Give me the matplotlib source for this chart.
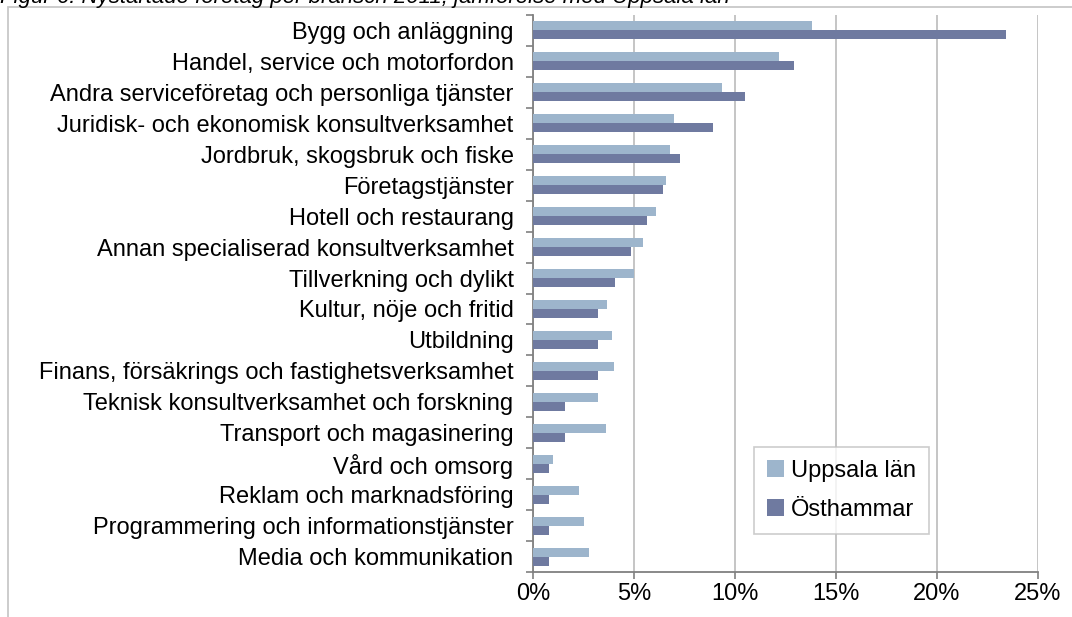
import matplotlib.pyplot as plt
import numpy as np
from matplotlib.patches import Rectangle

plt.rcParams['font.family'] = ['Liberation Sans', 'DejaVu Sans']

# branscher, uppifrån och ned
branscher = [
    'Bygg och anläggning',
    'Handel, service och motorfordon',
    'Andra serviceföretag och personliga tjänster',
    'Juridisk- och ekonomisk konsultverksamhet',
    'Jordbruk, skogsbruk och fiske',
    'Företagstjänster',
    'Hotell och restaurang',
    'Annan specialiserad konsultverksamhet',
    'Tillverkning och dylikt',
    'Kultur, nöje och fritid',
    'Utbildning',
    'Finans, försäkrings och fastighetsverksamhet',
    'Teknisk konsultverksamhet och forskning',
    'Transport och magasinering',
    'Vård och omsorg',
    'Reklam och marknadsföring',
    'Programmering och informationstjänster',
    'Media och kommunikation',
]
uppsala = [13.8, 12.2, 9.35, 7.0, 6.8, 6.6, 6.1, 5.45, 5.0, 3.65, 3.9, 4.0,
           3.2, 3.6, 1.0, 2.3, 2.5, 2.75]
osthammar = [23.4, 12.9, 10.5, 8.9, 7.3, 6.45, 5.65, 4.85, 4.05, 3.2, 3.2, 3.2,
             1.6, 1.6, 0.8, 0.8, 0.8, 0.8]

fig = plt.figure(figsize=(10.72, 6.17), dpi=100)
ax = fig.add_axes([533 / 1072, 1 - 572 / 617, 505 / 1072, 557 / 617])

y = np.arange(len(branscher))
h = 0.29
ax.barh(y - h / 2, uppsala, height=h, color='#9db5cc', label='Uppsala län', zorder=3)
ax.barh(y + h / 2, osthammar, height=h, color='#6f7aa0', label='Östhammar', zorder=3)

ax.set_ylim(len(branscher) - 0.5, -0.5)
ax.set_xlim(0, 25)
ax.set_xticks(np.arange(0, 26, 5))
ax.set_xticklabels([f'{v}%' for v in range(0, 26, 5)], fontsize=17)
ax.set_yticks(y)
ax.set_yticklabels(branscher, fontsize=17)
ax.set_yticks(np.arange(-0.5, len(branscher)), minor=True)
ax.tick_params(axis='y', which='major', length=0, pad=14)
ax.tick_params(axis='y', which='minor', length=5, color='#808080', width=1.2)
ax.tick_params(axis='x', length=5, color='#808080', width=1.2, pad=3)

ax.grid(axis='x', color='#c0c0c0', linewidth=1.3, zorder=0)
for s in ['top', 'right']:
    ax.spines[s].set_visible(False)
for s in ['left', 'bottom']:
    ax.spines[s].set_color('#808080')
    ax.spines[s].set_linewidth(1.3)

leg = ax.legend(loc='upper left', bbox_to_anchor=(754 / 1072, 1 - 447 / 617),
                bbox_transform=fig.transFigure, fontsize=17, frameon=True,
                fancybox=False, edgecolor='#c0c0c0', handlelength=0.7,
                handleheight=0.7, handletextpad=0.3, borderpad=0.55,
                labelspacing=0.7, borderaxespad=0)
leg.get_frame().set_linewidth(1.2)

# ram runt diagrammet (beskuren)
fig.patches.append(Rectangle((8 / 1072, -0.1), 1.2, 1 - 7 / 617 + 0.1,
                             transform=fig.transFigure, fill=False,
                             edgecolor='#c8c8c8', linewidth=1.3))

fig.text(0.0, 1 - 3 / 617,
         'Figur 6: Nystartade företag per bransch 2011, jämförelse med Uppsala län',
         fontsize=16, style='italic', va='baseline', ha='left')

fig.savefig('out.png', dpi=100)
